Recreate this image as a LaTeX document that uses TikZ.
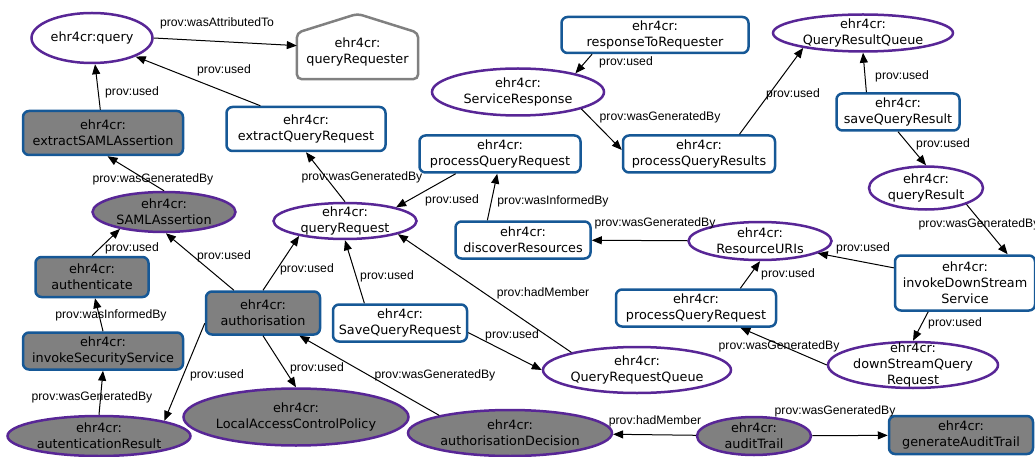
\documentclass[tikz,border=0pt]{standalone}
\usepackage{fontspec}
\setmainfont{DejaVu Sans}
\newfontfamily\labelfont{Liberation Sans}
\usepackage{tikz}
\usetikzlibrary{shapes.geometric,arrows.meta}

\definecolor{entpurple}{RGB}{88,38,150}
\definecolor{actblue}{RGB}{22,88,150}
\definecolor{fillgrey}{RGB}{128,128,128}
\definecolor{agentgrey}{RGB}{128,128,128}

\tikzset{
  entity/.style={ellipse, draw=entpurple, line width=2.5pt, fill=white, inner sep=-10pt,
    align=center, font=\fontsize{12.8}{16}\selectfont},
  activity/.style={rectangle, rounded corners=6pt, draw=actblue, line width=2.5pt, fill=white,
    inner sep=0pt, align=center, font=\fontsize{12.8}{16}\selectfont},
  agent/.style={draw=agentgrey, line width=2.5pt, rounded corners=5pt},
  dark/.style={fill=fillgrey},
  rel/.style={-{Triangle[length=10pt,width=8pt]}, line width=1pt},
  lbl/.style={font=\labelfont\fontsize{12.2}{14}\selectfont, inner sep=0pt}
}

\begin{document}
\begin{tikzpicture}[x=1pt, y=-1pt]
    \useasboundingbox (0,0) rectangle (1035,457);

    \node[entity, minimum width=121, minimum height=50] (query) at (92,38) {ehr4cr:query};
    \node[inner sep=0pt, align=center, font=\fontsize{12.8}{16}\selectfont,
          minimum width=121, minimum height=54] (requester) at (357.5,52) {ehr4cr:\\queryRequester};
    \draw[agent] (requester.south west) -- ([yshift=-8pt]requester.north west) -- ([yshift=11pt]requester.north)
        -- ([yshift=-8pt]requester.north east) -- (requester.south east) -- cycle;

    \node[activity, dark, minimum width=160, minimum height=44] (extSAML) at (103,133) {ehr4cr:\\extractSAMLAssertion};
    \node[activity, minimum width=159, minimum height=44] (extQR) at (306,129) {ehr4cr:\\extractQueryRequest};
    \node[entity, dark, minimum width=143, minimum height=40] (SAML) at (164,212) {ehr4cr:\\SAMLAssertion};
    \node[entity, minimum width=143, minimum height=36] (qReq) at (345,221) {ehr4cr:\\queryRequest};
    \node[activity, minimum width=161, minimum height=37] (pqReqA) at (500,154) {ehr4cr:\\processQueryRequest};
    \node[activity, minimum width=187, minimum height=36] (respTR) at (655,35) {ehr4cr:\\responseToRequester};
    \node[entity, minimum width=172, minimum height=47] (servResp) at (518,92) {ehr4cr:\\ServiceResponse};
    \node[activity, minimum width=152, minimum height=37] (pqRes) at (699,154) {ehr4cr:\\processQueryResults};
    \node[entity, minimum width=180, minimum height=37] (QRQ) at (863,33) {ehr4cr:\\QueryResultQueue};
    \node[activity, minimum width=123, minimum height=37] (saveQR) at (898,112) {ehr4cr:\\saveQueryResult};
    \node[entity, minimum width=114, minimum height=43] (qResult) at (926,188) {ehr4cr:\\queryResult};
    \node[activity, minimum width=140, minimum height=55] (invDS) at (965,283) {ehr4cr:\\invokeDownStream\\Service};
    \node[entity, minimum width=143, minimum height=38] (resURI) at (760,241) {ehr4cr:\\ResourceURIs};
    \node[activity, minimum width=135, minimum height=37] (discRes) at (523,240) {ehr4cr:\\discoverResources};
    \node[activity, minimum width=160, minimum height=37] (pqReqB) at (696,308) {ehr4cr:\\processQueryRequest};
    \node[entity, minimum width=170, minimum height=46] (dsQR) at (913,365) {ehr4cr:\\downStreamQuery\\Request};
    \node[entity, minimum width=188, minimum height=46] (QReqQ) at (637,370) {ehr4cr:\\QueryRequestQueue};
    \node[activity, minimum width=134, minimum height=37] (saveQReq) at (400,323) {ehr4cr:\\SaveQueryRequest};
    \node[activity, dark, minimum width=114, minimum height=43] (author) at (263,313) {ehr4cr:\\authorisation};
    \node[activity, dark, minimum width=113, minimum height=40] (authen) at (92,277) {ehr4cr:\\authenticate};
    \node[activity, dark, minimum width=160, minimum height=37] (invSec) at (103,351) {ehr4cr:\\invokeSecurityService};
    \node[entity, dark, minimum width=183, minimum height=40] (autRes) at (99,436) {ehr4cr:\\autenticationResult};
    \node[entity, dark, minimum width=225, minimum height=57] (LACP) at (296,417) {ehr4cr:\\LocalAccessControlPolicy};
    \node[entity, dark, minimum width=204, minimum height=46] (authDec) at (510,433) {ehr4cr:\\authorisationDecision};
    \node[entity, dark, minimum width=114, minimum height=38] (auditT) at (754,436) {ehr4cr:\\auditTrail};
    \node[activity, dark, minimum width=144, minimum height=38] (genAT) at (961,435) {ehr4cr:\\generateAuditTrail};

    \draw[rel] (query.east) -- (requester.174);
    \draw[rel] (extSAML) -- (query);
    \draw[rel] (extQR.153) -- (query.-23);
    \draw[rel] (SAML.north) -- (extSAML.-79);
    \draw[rel] (qReq.north) -- (extQR.south);
    \draw[rel] (pqReqA.204) -- (qReq.15);
    \draw[rel] (discRes.151) -- (pqReqA.-98);
    \draw[rel] (resURI) -- (discRes);
    \draw[rel] (invDS.168) -- (resURI.-12);
    \draw[rel] (pqReqB.24) -- (resURI.south);
    \draw[rel] (invDS.218) -- (dsQR.north);
    \draw[rel] (dsQR.west) -- (pqReqB.-24);
    \draw[rel] (qResult.-22) -- (invDS.34);
    \draw[rel] (saveQR.148) -- (QRQ.south);
    \draw[rel] (saveQR.south) -- (qResult.north);
    \draw[rel] (pqRes.26) -- (QRQ.194);
    \draw[rel] (servResp.-15) -- (pqRes.177);
    \draw[rel] (respTR.197) -- (servResp.18);
    \draw[rel] (authen.north) -- (SAML.201);
    \draw[rel] (author.142) -- (SAML.-85);
    \draw[rel] (author.north) -- (qReq.198);
    \draw[rel] (invSec.north) -- (authen.-82);
    \draw[rel] (autRes.north) -- (invSec.south);
    \draw[rel] (author.190) -- (autRes.13);
    \draw[rel] (author.south) -- (LACP.north);
    \draw[rel] (authDec.166) -- (author.-32);
    \draw[rel] (saveQReq.151) -- (qReq.south);
    \draw[rel] (saveQReq.-8) -- (QReqQ.west);
    \draw[rel] (QReqQ.165) -- (qReq.-14);
    \draw[rel] (auditT) -- (authDec);
    \draw[rel] (auditT) -- (genAT);

    \node[lbl] (lb1) at (217,23) {prov:wasAttributedTo};
    \node[lbl] (lb2) at (132,92) {prov:used};
    \node[lbl] (lb3) at (224,70) {prov:used};
    \node[lbl] (lb4) at (153,179) {prov:wasGeneratedBy};
    \node[lbl] (lb5) at (362,177) {prov:wasGeneratedBy};
    \node[lbl] (lb6) at (452,200) {prov:used};
    \node[lbl] (lb7) at (553,201) {prov:wasInformedBy};
    \node[lbl] (lb8) at (655,223) {prov:wasGeneratedBy};
    \node[lbl] (lb9) at (863,248) {prov:used};
    \node[lbl] (lb10) at (788,274) {prov:used};
    \node[lbl] (lb11) at (955,323) {prov:used};
    \node[lbl] (lb12) at (779,346) {prov:wasGeneratedBy};
    \node[lbl] (lb13) at (979,224) {prov:wasGeneratedBy};
    \node[lbl] (lb14) at (902,76) {prov:used};
    \node[lbl] (lb15) at (943,144) {prov:used};
    \node[lbl] (lb16) at (793,94) {prov:used};
    \node[lbl] (lb17) at (660,117) {prov:wasGeneratedBy};
    \node[lbl] (lb18) at (626,62) {prov:used};
    \node[lbl] (lb19) at (132,248) {prov:used};
    \node[lbl] (lb20) at (224,256) {prov:used};
    \node[lbl] (lb21) at (307,269) {prov:used};
    \node[lbl] (lb22) at (111,315) {prov:wasInformedBy};
    \node[lbl] (lb23) at (92,397) {prov:wasGeneratedBy};
    \node[lbl] (lb24) at (217,375) {prov:used};
    \node[lbl] (lb25) at (317,368) {prov:used};
    \node[lbl] (lb26) at (435,375) {prov:wasGeneratedBy};
    \node[lbl] (lb27) at (387,276) {prov:used};
    \node[lbl] (lb28) at (512,335) {prov:used};
    \node[lbl] (lb29) at (543,293) {prov:hadMember};
    \node[lbl] (lb30) at (655,421) {prov:hadMember};
    \node[lbl] (lb31) at (835,411) {prov:wasGeneratedBy};
\end{tikzpicture}
\end{document}
